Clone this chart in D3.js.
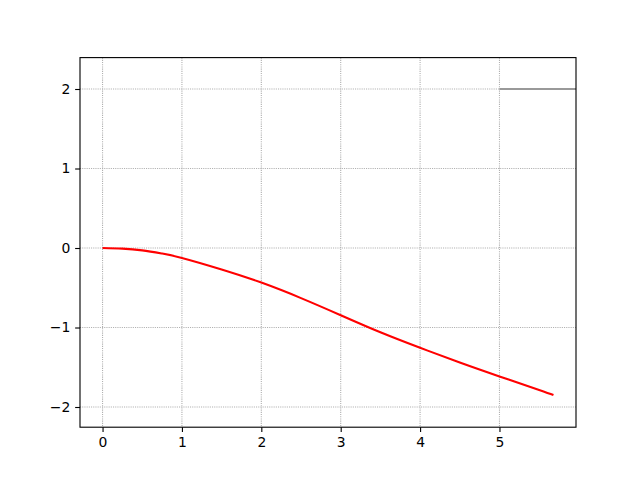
<!DOCTYPE html>
<html><head><meta charset="utf-8">
<script src="https://cdn.jsdelivr.net/npm/d3@7"></script>
<style>body{margin:0;background:#fff}svg text{font-family:"DejaVu Sans",sans-serif;}</style>
</head><body>
<svg id="c" width="640" height="480"></svg>
<script>
const curveX = [0, 0.25, 0.5, 0.75, 1, 1.5, 2, 2.5, 3, 3.5, 4, 4.5, 5, 5.5, 5.68];
const curveY = [0, -0.008, -0.03, -0.07, -0.125, -0.27, -0.435, -0.63, -0.845, -1.06, -1.255, -1.44, -1.615, -1.785, -1.85];
const refLineX = [5, 5.964];
const refLineY = [2, 2];
const xTicks = [0, 1, 2, 3, 4, 5];
const yTicks = [-2, -1, 0, 1, 2];
const tickLabels = ["\u22122", "\u22121", "0", "1", "2"];

const L = 80, R = 576, T = 57.6, B = 427.2;
const svg = d3.select("#c");
const x = d3.scaleLinear().domain([-0.284, 5.964]).range([L, R]);
const y = d3.scaleLinear().domain([-2.254, 2.395]).range([B, T]);

const grid = svg.append("g");
grid.selectAll("line.gx").data(xTicks).enter().append("line")
  .attr("x1", d => x(d)).attr("x2", d => x(d)).attr("y1", T).attr("y2", B)
  .attr("stroke", "#b0b0b0").attr("stroke-width", 1.1).attr("stroke-dasharray", "1.1,1.1");
grid.selectAll("line.gy").data(yTicks).enter().append("line")
  .attr("y1", d => y(d)).attr("y2", d => y(d)).attr("x1", L).attr("x2", R)
  .attr("stroke", "#b0b0b0").attr("stroke-width", 1.1).attr("stroke-dasharray", "1.1,1.1");

const pts = curveX.map((v, i) => [v, curveY[i]]);
svg.append("path").datum(pts)
  .attr("d", d3.line().x(d => x(d[0])).y(d => y(d[1])).curve(d3.curveNatural))
  .attr("fill", "none").attr("stroke", "red").attr("stroke-width", 2.08);

svg.append("path").datum(refLineX.map((v, i) => [v, refLineY[i]]))
  .attr("d", d3.line().x(d => x(d[0])).y(d => y(d[1])))
  .attr("fill", "none").attr("stroke", "#999").attr("stroke-width", 2.08);

const xAxis = d3.axisBottom(x).tickValues(xTicks).tickSize(4.86).tickPadding(4.86).tickFormat(d3.format("d"));
const gx = svg.append("g").attr("transform", `translate(0,${B})`).call(xAxis);
gx.select(".domain").remove();
const yAxis = d3.axisLeft(y).tickValues(yTicks).tickSize(4.86).tickPadding(4.86).tickFormat((d, i) => tickLabels[i]);
const gy = svg.append("g").attr("transform", `translate(${L},0)`).call(yAxis);
gy.select(".domain").remove();
svg.selectAll(".tick line").attr("stroke", "#000").attr("stroke-width", 1.11);
svg.selectAll(".tick text").attr("fill", "#000").style("font-size", "13.9px").style("font-family", "DejaVu Sans");

svg.append("rect").attr("x", L).attr("y", T).attr("width", R - L).attr("height", B - T)
  .attr("fill", "none").attr("stroke", "#000").attr("stroke-width", 1.11);
</script>
</body></html>
